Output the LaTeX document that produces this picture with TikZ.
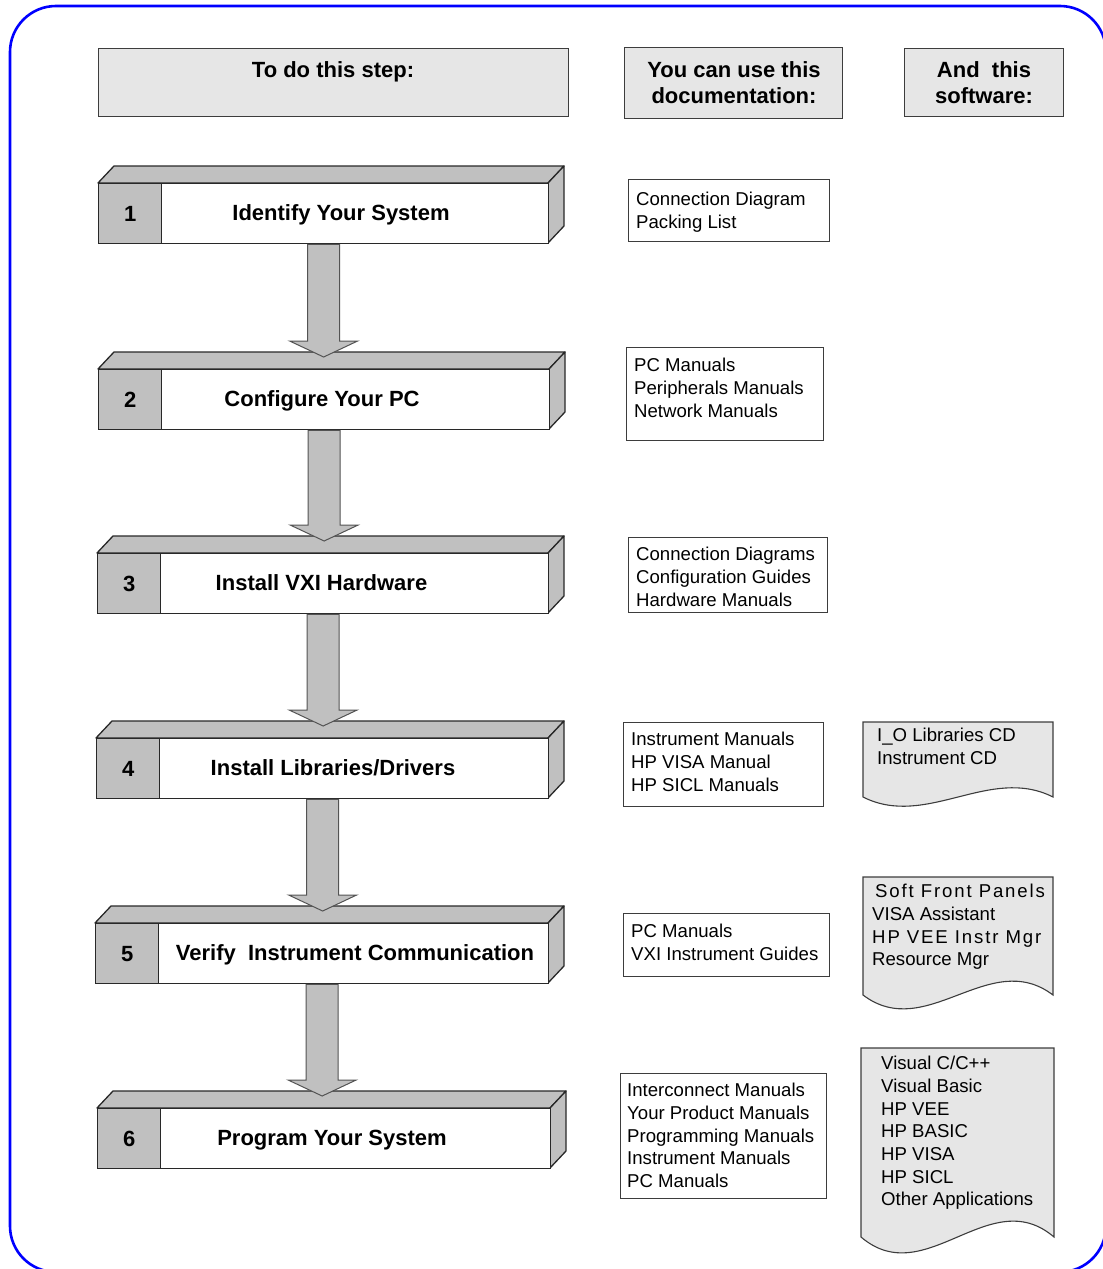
\documentclass[tikz,border=0pt]{standalone}
\usepackage{fontspec}
\setmainfont{Liberation Sans}
\usetikzlibrary{calc}
\definecolor{stepgray}{RGB}{192,192,192}
\definecolor{paleg}{RGB}{230,230,230}
\definecolor{edgec}{RGB}{40,40,40}
\definecolor{frameblue}{RGB}{0,0,255}
\newcommand\bodyfont{\fontsize{18.6}{22.7}\selectfont}
\newcommand\headfont{\fontsize{22}{26}\selectfont\bfseries}
\newcommand\stepbox[7]{% name, x0, ytop, x1, number, title, title centre x
  \pgfmathsetmacro\sbw{#4-#2}
  \draw[edge3d] (#2,#3) -- (#2+16,#3-17) -- (#4+16,#3-17) -- (#4,#3) -- cycle;
  \draw[edge3d] (#4,#3) -- (#4+16,#3-17) -- (#4+16,#3+43) -- (#4,#3+60) -- cycle;
  \node[frontbox, minimum width=\sbw pt, anchor=north west] (#1) at (#2,#3) {};
  \node[numbox, anchor=north west] (#1n) at (#2,#3) {#5};
  \node[steptitle] (#1t) at (#7,#3+30) {#6};
}
\newcommand\flowarrow[2]{%
  \coordinate (#1tip) at (#1.south |- #2.north);
  \draw[bigarrow] ($(#1.south)+(-16,0)$) -- ($(#1tip)+(-16,-28)$)
    -- ($(#1tip)+(-34,-28)$) -- ($(#1tip)+(0,-12)$)
    -- ($(#1tip)+(34,-28)$) -- ($(#1tip)+(16,-28)$)
    -- ($(#1.south)+(16,0)$) -- cycle;
}
\newcommand\softdoc[5]{% x0, ytop, x1, ybottom, wave
  \draw[softshape] (#1,#2) -- (#3,#2) -- (#3,#4)
    .. controls (#3-#3/3+#1/3,#4-#5) and (#1+#3/3-#1/3,#4+#5) .. (#1,#4) -- cycle;
}
\begin{document}
\begin{tikzpicture}[x=1pt,y=-1pt,
  frame/.style={draw=frameblue, line width=2.6pt, rounded corners=46pt},
  edge3d/.style={draw=edgec, line width=1.3pt, fill=stepgray, line join=round},
  frontbox/.style={draw=edgec, line width=1.3pt, fill=white, minimum height=60pt, inner sep=0pt},
  numbox/.style={draw=edgec, line width=1.3pt, fill=stepgray, minimum width=63pt, minimum height=60pt, inner sep=0pt, font=\headfont},
  steptitle/.style={inner sep=0pt, text height=15.8pt, text depth=0pt, font=\headfont},
  bigarrow/.style={draw=edgec!80, line width=1pt, fill=stepgray, line join=miter},
  hdrbox/.style={draw=edgec!90, line width=1.1pt, fill=paleg, inner sep=0pt},
  hdrtext/.style={inner sep=0pt, align=center, font=\headfont},
  docbox/.style={draw=edgec!90, line width=1.1pt, fill=white, inner sep=0pt},
  doctext/.style={inner sep=0pt, align=left, font=\bodyfont},
  softshape/.style={draw=edgec!90, line width=1.1pt, fill=paleg}
]
\useasboundingbox (0,0) rectangle (1103,1269);
\begin{scope}
  \clip (0,0) rectangle (1103,1269);
  \draw[frame] (10,6) rectangle (1106,1272);
\end{scope}

% headers
\node[hdrbox, minimum width=470pt, minimum height=68pt, anchor=north west] (h1) at (98,48) {};
\node[hdrtext, anchor=north] (h1t) at (333,61) {To do this step:};
\node[hdrbox, minimum width=218pt, minimum height=71pt, anchor=north west] (h2) at (624,47) {};
\node[hdrtext, anchor=north] (h2t) at (734,61) {You can use this\\documentation:};
\node[hdrbox, minimum width=159pt, minimum height=68pt, anchor=north west] (h3) at (904,48) {};
\node[hdrtext, anchor=north] (h3t) at (984,61) {And\ \ this\\software:};

% steps
\stepbox{s1}{98}{183}{548}{1}{Identify Your System}{341}
\stepbox{s2}{98}{369}{549}{2}{Configure Your PC}{322}
\stepbox{s3}{97}{553}{548}{3}{Install VXI Hardware}{321.5}
\stepbox{s4}{96}{738}{548}{4}{Install Libraries/Drivers}{333}
\stepbox{s5}{95}{923}{548}{5}{Verify\ \ Instrument Communication}{355}
\stepbox{s6}{97}{1108}{550}{6}{Program Your System}{332}

\flowarrow{s1}{s2}
\flowarrow{s2}{s3}
\flowarrow{s3}{s4}
\flowarrow{s4}{s5}
\flowarrow{s5}{s6}

% documentation
\node[docbox, minimum width=201pt, minimum height=62pt, anchor=north west] (d1) at (628,179) {};
\node[doctext, anchor=north west] (d1t) at (636,192) {Connection Diagram\\Packing List};
\node[docbox, minimum width=197pt, minimum height=93pt, anchor=north west] (d2) at (626,347) {};
\node[doctext, anchor=north west] (d2t) at (634,358) {PC Manuals\\Peripherals Manuals\\Network Manuals};
\node[docbox, minimum width=199pt, minimum height=75pt, anchor=north west] (d3) at (628,537) {};
\node[doctext, anchor=north west] (d3t) at (636,547) {Connection Diagrams\\Configuration Guides\\Hardware Manuals};
\node[docbox, minimum width=200pt, minimum height=84pt, anchor=north west] (d4) at (623,722) {};
\node[doctext, anchor=north west] (d4t) at (631,732) {Instrument Manuals\\HP VISA Manual\\HP SICL Manuals};
\node[docbox, minimum width=206pt, minimum height=63pt, anchor=north west] (d5) at (623,913) {};
\node[doctext, anchor=north west] (d5t) at (631,924) {PC Manuals\\VXI Instrument Guides};
\node[docbox, minimum width=206pt, minimum height=125pt, anchor=north west] (d6) at (620,1073) {};
\node[doctext, anchor=north west] (d6t) at (627,1083) {Interconnect Manuals\\Your Product Manuals\\Programming Manuals\\Instrument Manuals\\PC Manuals};

% software
\softdoc{863}{722}{1053}{797}{32}
\node[doctext, anchor=north west] (w1t) at (877,728) {I\_O Libraries CD\\Instrument CD};
\softdoc{863}{877}{1053}{995}{48}
\node[doctext, anchor=north west] (w2t) at (872,884) {\hspace*{3pt}{\addfontfeature{LetterSpace=10}Soft Front Panels}\\VISA Assistant\\{\addfontfeature{LetterSpace=10}HP VEE Instr Mgr}\\Resource Mgr};
\softdoc{861}{1048}{1054}{1237}{55}
\node[doctext, anchor=north west] (w3t) at (881,1056) {Visual C/C++\\Visual Basic\\HP VEE\\HP BASIC\\HP VISA\\HP SICL\\Other Applications};
\end{tikzpicture}
\end{document}
